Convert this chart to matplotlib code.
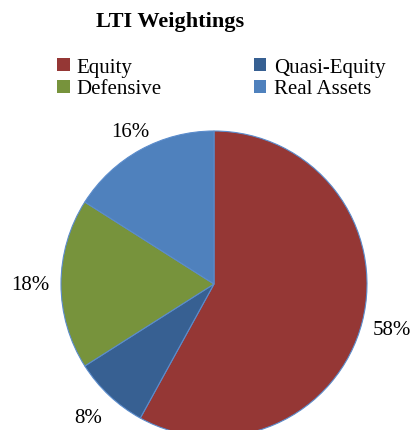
import numpy as np
import matplotlib.pyplot as plt
from matplotlib.patches import Patch

plt.rcParams["font.family"] = ["Liberation Serif", "DejaVu Serif"]

labels = ["Equity", "Quasi-Equity", "Defensive", "Real Assets"]
weights = [58, 8, 18, 16]
colors = ["#953735", "#376092", "#77933C", "#4F81BD"]

W, H = 414, 431
fig = plt.figure(figsize=(W / 100, H / 100), dpi=100)

# pie centre and radius in pixels
cx, cy, r = 214, 285, 153
ax = fig.add_axes([(cx - r) / W, (H - cy - r) / H, 2 * r / W, 2 * r / H])

wedges, texts, autotexts = ax.pie(
    weights,
    colors=colors,
    startangle=90,
    counterclock=False,
    autopct=lambda p: f"{p:.0f}%",
    pctdistance=1.2,
    wedgeprops=dict(edgecolor="#5b8ccc", linewidth=0.8),
    textprops=dict(fontsize=15, color="black"),
)
# the top label sits a bit closer to the pie
w = wedges[3]
mid = np.deg2rad((w.theta1 + w.theta2) / 2)
autotexts[3].set_position((1.14 * np.cos(mid), 1.14 * np.sin(mid)))

ax.set_xlim(-1, 1)
ax.set_ylim(-1, 1)
ax.set_aspect("equal")
ax.axis("off")
for w in wedges:
    w.set_clip_on(False)

fig.text(170 / W, 1 - 22 / H, "LTI Weightings", ha="center", va="center",
         fontsize=16, fontweight="bold")

# two legend columns, rows read left to right
for col, x0 in [(0, 57), (1, 254)]:
    idx = [col, col + 2]
    handles = [Patch(facecolor=colors[i], edgecolor="none") for i in idx]
    fig.legend(handles, [labels[i] for i in idx], ncol=1,
               loc="upper left", bbox_to_anchor=(x0 / W, 1 - 59 / H),
               frameon=False, fontsize=15, handlelength=0.6, handleheight=0.6,
               handletextpad=0.35, labelspacing=0.12,
               borderpad=0, borderaxespad=0)

fig.savefig("out.png", dpi=100)
